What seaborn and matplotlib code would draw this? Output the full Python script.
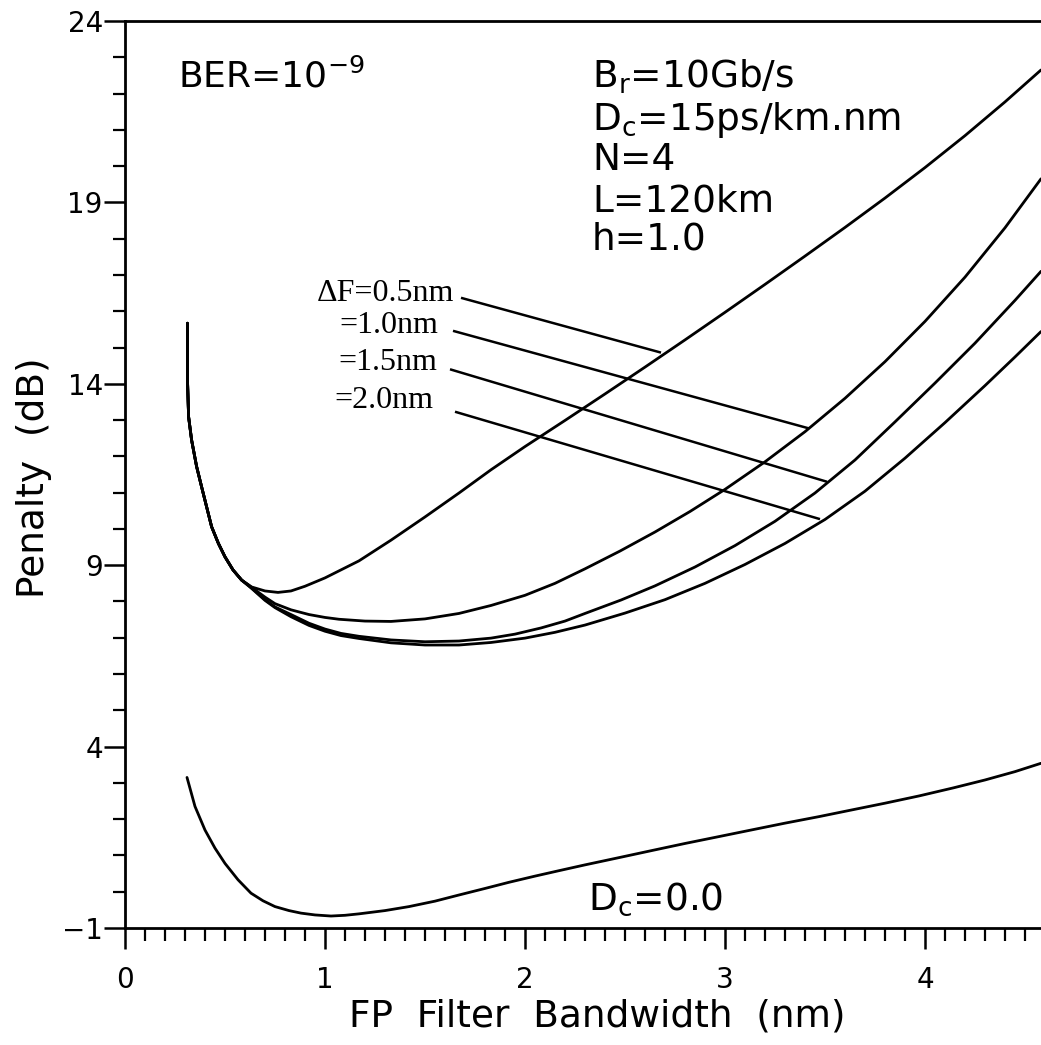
import numpy as np
import pandas as pd
import matplotlib
matplotlib.use("Agg")
import matplotlib.pyplot as plt
import seaborn as sns
from matplotlib.ticker import MultipleLocator

# ---------------- data ----------------
common_x = [0.312, 0.312, 0.313, 0.318, 0.333, 0.358, 0.383, 0.408, 0.433, 0.467, 0.50, 0.54, 0.583]
common_y = [15.67, 14.90, 14.00, 13.09, 12.45, 11.72, 11.16, 10.61, 10.06, 9.60, 9.23, 8.87, 8.59]

df05_x = [0.633, 0.70, 0.765, 0.83, 0.90, 1.00, 1.17, 1.33, 1.50, 1.67, 1.83, 2.00, 2.20, 2.40,
          2.60, 2.80, 3.00, 3.20, 3.40, 3.60, 3.80, 4.00, 4.20, 4.40, 4.58]
df05_y = [8.40, 8.29, 8.25, 8.29, 8.42, 8.65, 9.12, 9.69, 10.33, 10.99, 11.63, 12.27, 12.99, 13.72,
          14.46, 15.21, 15.97, 16.74, 17.52, 18.31, 19.12, 19.96, 20.84, 21.77, 22.65]

df10_x = [0.633, 0.70, 0.75, 0.83, 0.92, 1.00, 1.07, 1.20, 1.33, 1.50, 1.67, 1.83, 2.00, 2.15, 2.30,
          2.475, 2.65, 2.825, 3.00, 3.20, 3.40, 3.60, 3.80, 4.00, 4.20, 4.40, 4.58]
df10_y = [8.39, 8.12, 7.94, 7.77, 7.64, 7.56, 7.51, 7.46, 7.45, 7.52, 7.67, 7.89, 8.17, 8.50, 8.90,
          9.39, 9.915, 10.48, 11.09, 11.85, 12.68, 13.60, 14.61, 15.72, 16.94, 18.30, 19.65]

df15_x = [0.633, 0.70, 0.75, 0.83, 0.92, 1.00, 1.08, 1.17, 1.33, 1.50, 1.67, 1.83, 1.95, 2.08, 2.20,
          2.30, 2.48, 2.65, 2.85, 3.05, 3.25, 3.45, 3.65, 3.85, 4.05, 4.25, 4.45, 4.58]
df15_y = [8.37, 8.05, 7.85, 7.64, 7.40, 7.24, 7.12, 7.04, 6.94, 6.89, 6.91, 6.99, 7.10, 7.27, 7.46,
          7.67, 8.04, 8.43, 8.95, 9.54, 10.21, 10.99, 11.90, 12.95, 14.02, 15.12, 16.30, 17.10]

df20_x = [0.633, 0.70, 0.75, 0.83, 0.92, 1.00, 1.08, 1.17, 1.33, 1.50, 1.67, 1.83, 2.00, 2.15, 2.30,
          2.50, 2.70, 2.90, 3.10, 3.30, 3.50, 3.70, 3.90, 4.10, 4.30, 4.45, 4.58]
df20_y = [8.36, 8.03, 7.83, 7.58, 7.34, 7.18, 7.06, 6.98, 6.86, 6.80, 6.80, 6.87, 6.99, 7.15, 7.35,
          7.68, 8.05, 8.50, 9.02, 9.60, 10.26, 11.04, 11.95, 12.93, 13.95, 14.74, 15.44]

dc0_x = [0.31, 0.35, 0.40, 0.45, 0.50, 0.565, 0.63, 0.69, 0.75, 0.82, 0.88, 0.95, 1.03, 1.10, 1.17, 1.30,
         1.42, 1.55, 1.67, 1.80, 1.92, 2.05, 2.17, 2.30, 2.47, 2.63, 2.80, 2.97, 3.13, 3.30, 3.47,
         3.63, 3.80, 3.97, 4.14, 4.30, 4.45, 4.58]
dc0_y = [3.15, 2.35, 1.70, 1.20, 0.78, 0.33, -0.04, -0.25, -0.41, -0.52, -0.59, -0.64, -0.67, -0.65,
         -0.61, -0.52, -0.41, -0.26, -0.09, 0.09, 0.26, 0.43, 0.58, 0.74, 0.94, 1.13, 1.33, 1.52,
         1.70, 1.89, 2.07, 2.25, 2.44, 2.64, 2.86, 3.08, 3.31, 3.54]

label_text = ["\u0394F=0.5nm", "=1.0nm", "=1.5nm", "=2.0nm"]
label_x = [1.645, 1.565, 1.56, 1.54]
label_y = [16.50, 15.62, 14.60, 13.55]
leader_x0 = [1.68, 1.64, 1.625, 1.65]
leader_y0 = [16.37, 15.46, 14.40, 13.23]
leader_x1 = [2.68, 3.42, 3.51, 3.475]
leader_y1 = [14.86, 12.77, 11.30, 10.27]

x_ticks = [0, 1, 2, 3, 4]
y_ticks = [-1, 4, 9, 14, 19, 24]

# ---------------- build long table ----------------
frames = []
for name, xs, ys in [("0.5", df05_x, df05_y), ("1.0", df10_x, df10_y),
                     ("1.5", df15_x, df15_y), ("2.0", df20_x, df20_y)]:
    frames.append(pd.DataFrame({"bw": common_x + xs, "pen": common_y + ys, "curve": name}))
frames.append(pd.DataFrame({"bw": dc0_x, "pen": dc0_y, "curve": "Dc0"}))
df = pd.concat(frames, ignore_index=True)

# ---------------- style ----------------
sns.set_style("ticks")
plt.rcParams["font.family"] = ["DejaVu Sans"]
plt.rcParams["mathtext.fontset"] = "dejavusans"
for k in ["text.color", "axes.labelcolor", "xtick.color", "ytick.color", "axes.edgecolor"]:
    plt.rcParams[k] = "black"

fig = plt.figure(figsize=(10.41, 10.45), dpi=100)
ax = fig.add_axes([125 / 1041, 1 - 928 / 1045, (1041 - 125) / 1041, (928 - 21) / 1045])

sns.lineplot(data=df, x="bw", y="pen", units="curve", estimator=None, sort=False,
             color="black", linewidth=2.0, ax=ax, legend=False)

for x0, y0, x1, y1 in zip(leader_x0, leader_y0, leader_x1, leader_y1):
    ax.plot([x0, x1], [y0, y1], color="black", linewidth=1.8, solid_capstyle="butt")

for t, x, y in zip(label_text, label_x, label_y):
    ax.text(x, y, t, ha="right", va="center", fontsize=23,
            family=["Liberation Serif", "DejaVu Serif"], color="black")

ax.text(0.265, 22.18, "BER=10$^{-9}$", fontsize=26, va="baseline", ha="left", color="black")
block = ["B$_\\mathregular{r}$=10Gb/s", "D$_\\mathregular{c}$=15ps/km.nm", "N=4", "L=120km", "h=1.0"]
block_y = [22.15, 21.0, 19.89, 18.74, 17.69]
for t, y in zip(block, block_y):
    ax.text(2.335, y, t, fontsize=27, va="baseline", ha="left", color="black")
ax.text(2.315, -0.50, "D$_\\mathregular{c}$=0.0", fontsize=27, va="baseline", ha="left", color="black")

ax.set_xlim(0, 4.58)
ax.set_ylim(-1, 24)
ax.set_xticks(x_ticks)
ax.set_yticks(y_ticks)
ax.xaxis.set_minor_locator(MultipleLocator(0.1))
ax.yaxis.set_minor_locator(MultipleLocator(1))
ax.tick_params(axis="both", which="major", direction="out", length=15, width=1.8,
               labelsize=20, colors="black")
ax.tick_params(axis="both", which="minor", direction="out", length=9, width=1.6, colors="black")
ax.tick_params(axis="x", which="major", pad=12)
ax.tick_params(axis="y", which="major", pad=1)

for s in ["left", "bottom", "top"]:
    ax.spines[s].set_visible(True)
    ax.spines[s].set_linewidth(2.0)
    ax.spines[s].set_color("black")
ax.spines["right"].set_visible(False)

ax.set_xlabel("")
ax.set_ylabel("")
fig.text(34 / 1041, 1 - 478 / 1045, "Penalty  (dB)", rotation=90, ha="center", va="center",
         fontsize=27, color="black")
fig.text(597 / 1041, 1 - 1016 / 1045, "FP  Filter  Bandwidth  (nm)", ha="center", va="center",
         fontsize=27, color="black")

fig.savefig("out.png", dpi=100, facecolor="white")
